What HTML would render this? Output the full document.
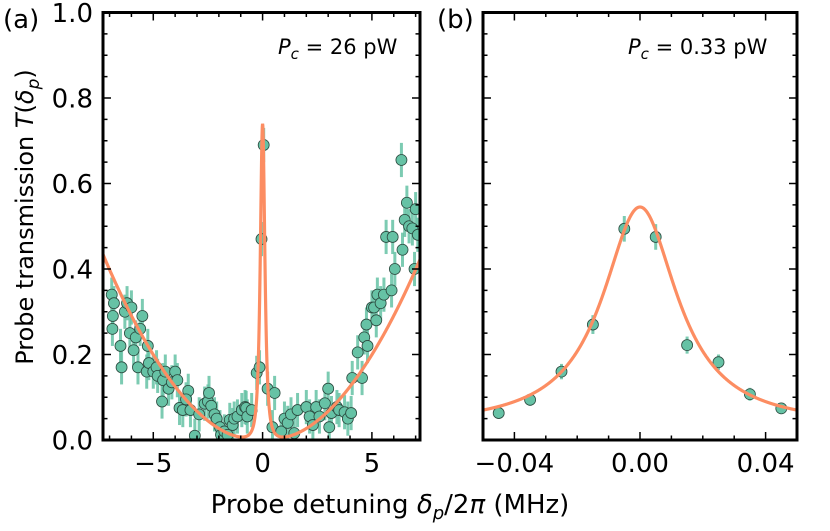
<!DOCTYPE html>
<html><head><meta charset="utf-8">
<style>
html,body{margin:0;padding:0;background:#fff;}
svg{display:block;font-family:"DejaVu Sans","Liberation Sans",sans-serif;}
</style></head>
<body>
<svg id="fig" width="830" height="531" viewBox="0 0 830 531" xmlns="http://www.w3.org/2000/svg">
<g id="gA"></g>
<g id="gB"></g>
<text x="3" y="28" font-size="26">(a)</text>
<text x="437" y="28" font-size="26">(b)</text>
<text x="278" y="54" font-size="21"><tspan font-style="italic">P</tspan><tspan font-style="italic" font-size="15" dy="5">c</tspan><tspan dy="-5"> = 26 pW</tspan></text>
<text x="628" y="54" font-size="21"><tspan font-style="italic">P</tspan><tspan font-style="italic" font-size="15" dy="5">c</tspan><tspan dy="-5"> = 0.33 pW</tspan></text>
<text transform="translate(33,217) rotate(-90)" text-anchor="middle" font-size="24">Probe transmission <tspan font-style="italic">T</tspan>(<tspan font-style="italic">δ</tspan><tspan font-style="italic" font-size="17" dy="6">p</tspan><tspan dy="-6">)</tspan></text>
<text x="390" y="513" text-anchor="middle" font-size="26">Probe detuning <tspan font-style="italic">δ</tspan><tspan font-style="italic" font-size="18" dy="6">p</tspan><tspan dy="-6">/2</tspan><tspan font-style="italic">π</tspan> (MHz)</text>
</svg>
<script>
const aX=[-6.9,-6.8,-6.85,-6.87,-6.5,-6.45,-6.3,-6.2,-6.0,-6.07,-5.9,-5.8,-5.6,-5.7,-5.5,-5.25,-5.3,-5.2,-5.0,-4.85,-4.8,-4.55,-4.45,-4.6,-4.3,-4.15,-4.0,-3.9,-3.8,-3.65,-3.4,-3.5,-3.3,-3.1,-2.9,-2.65,-2.5,-2.45,-2.35,-2.2,-2.1,-1.95,-1.9,-1.75,-1.6,-1.5,-1.37,-1.3,-1.15,-0.95,-0.8,-0.75,-0.7,-0.5,-0.27,-0.14,-0.05,0.05,0.23,0.55,0.45,0.85,1.0,1.15,1.3,1.45,1.6,2.0,2.15,2.3,2.45,2.6,2.85,3.0,3.05,3.15,3.4,3.5,3.75,3.9,4.05,4.1,4.35,4.55,4.65,4.8,4.75,5.0,5.1,5.2,5.25,5.4,5.55,5.65,5.9,5.95,6.05,6.35,6.4,6.5,6.6,6.7,6.85,6.95,7.0,7.1];
const aY=[0.34,0.32,0.29,0.26,0.22,0.17,0.30,0.32,0.31,0.25,0.21,0.24,0.26,0.17,0.29,0.22,0.16,0.18,0.16,0.17,0.15,0.14,0.16,0.09,0.12,0.135,0.16,0.14,0.075,0.07,0.115,0.095,0.07,0.01,0.06,0.085,0.09,0.11,0.08,0.06,0.05,0.03,0.012,0.02,0.012,0.047,0.035,0.05,0.055,0.07,0.077,0.075,0.055,0.07,0.157,0.17,0.47,0.69,0.12,0.11,0.03,0.02,0.05,0.04,0.06,0.016,0.07,0.077,0.055,0.035,0.077,0.055,0.086,0.12,0.03,0.063,0.077,0.07,0.065,0.05,0.063,0.145,0.205,0.145,0.24,0.22,0.27,0.31,0.31,0.28,0.34,0.32,0.34,0.475,0.35,0.475,0.40,0.655,0.445,0.515,0.555,0.5,0.495,0.40,0.54,0.48];
const aErr=0.04;
const bX=[-0.045,-0.035,-0.025,-0.015,-0.005,0.005,0.015,0.025,0.035,0.045];
const bY=[0.063,0.094,0.16,0.27,0.494,0.475,0.222,0.182,0.107,0.074];
const bErr=[0.01,0.014,0.018,0.022,0.03,0.03,0.02,0.018,0.015,0.012];
// fit parameters
const fitA={quad:0.0083,edge:1.0,peak:0.74,width:0.16};
const fitB={base:0.03,amp:0.515,hwhm:0.0145};
const aXTicks=[-5,0,5], aXLabels=["−5","0","5"];
const bXTicks=[-0.04,0,0.04], bXLabels=["−0.04","0.00","0.04"];
const yTicks=[0,0.2,0.4,0.6,0.8,1.0], yLabels=["0.0","0.2","0.4","0.6","0.8","1.0"];

const NS="http://www.w3.org/2000/svg";
function mk(p,t,at){const e=document.createElementNS(NS,t);for(const k in at)e.setAttribute(k,at[k]);p.appendChild(e);return e;}
const Y0=440,Y1=12.5;
function sy(v){return Y0+(Y1-Y0)*v;}
function panel(g,x0,x1,px0,px1,xs,ys,errs,curveF,xt,xl,minorStep,showY,nm){
  const sx=v=>px0+(v-x0)/(x1-x0)*(px1-px0);
  const cl=nm+"-clip";
  const cp=mk(g,"clipPath",{id:cl});mk(cp,"rect",{x:px0,y:Y1,width:px1-px0,height:Y0-Y1});
  const pg=mk(g,"g",{"clip-path":"url(#"+cl+")"});
  for(let i=0;i<xs.length;i++){
    const e=Array.isArray(errs)?errs[i]:errs;
    const l=mk(pg,"line",{x1:sx(xs[i]),x2:sx(xs[i]),y1:sy(ys[i]-e),y2:sy(ys[i]+e),stroke:"#66c2a5","stroke-width":3,opacity:0.85});
    
    
  }
  for(let i=0;i<xs.length;i++){
    const c=mk(pg,"circle",{cx:sx(xs[i]),cy:sy(ys[i]),r:5.5,fill:"#66c2a5",stroke:"#2b4a3f","stroke-width":0.8});
    
    
  }
  let d="";const N=1200;
  for(let i=0;i<=N;i++){const v=x0+(x1-x0)*i/N;d+=(i?"L":"M")+sx(v).toFixed(2)+","+sy(curveF(v)).toFixed(2);}
  const p=mk(pg,"path",{d:d,fill:"none",stroke:"#fc8d62","stroke-width":3.2});
  
  
  const tg=mk(g,"g",{stroke:"#000","stroke-width":1.5});
  for(let v=Math.ceil(x0/minorStep-1e-9)*minorStep;v<=x1+1e-9;v+=minorStep){
    const X=sx(v);const major=xt.some(t=>Math.abs(t-v)<minorStep/10);const L=major?8:4.5;
    mk(tg,"line",{x1:X,x2:X,y1:Y0,y2:Y0-L});mk(tg,"line",{x1:X,x2:X,y1:Y1,y2:Y1+L});
  }
  for(let k=0;k<=20;k++){const v=k*0.05;const Yv=sy(v);const L=(k%4===0)?8:4.5;
    mk(tg,"line",{x1:px0,x2:px0+L,y1:Yv,y2:Yv});mk(tg,"line",{x1:px1,x2:px1-L,y1:Yv,y2:Yv});}
  xt.forEach((t,i)=>{const tx=mk(g,"text",{x:sx(t),y:472,"text-anchor":"middle","font-size":26});tx.textContent=xl[i];
    
    });
  if(showY)yTicks.forEach((t,i)=>{const tx=mk(g,"text",{x:px0-10,y:sy(t)+9.5,"text-anchor":"end","font-size":26});tx.textContent=yLabels[i];
    
    });
  const fr=mk(g,"rect",{x:px0,y:Y1,width:px1-px0,height:Y0-Y1,fill:"none",stroke:"#000","stroke-width":3});
  
  
}
function fA(x){const x2=x*x;return fitA.quad*x2*(x2/(x2+fitA.edge))+fitA.peak/Math.pow(1+(x/fitA.width)*(x/fitA.width),1.5);}
function fB(x){return fitB.base+fitB.amp/(1+(x/fitB.hwhm)*(x/fitB.hwhm));}
panel(document.getElementById("gA"),-7.3,7.2,103,420,aX,aY,aErr,fA,aXTicks,aXLabels,1,true,"panel-a");
panel(document.getElementById("gB"),-0.05,0.05,483,797,bX,bY,bErr,fB,bXTicks,bXLabels,0.01,false,"panel-b");
</script>
</body></html>
